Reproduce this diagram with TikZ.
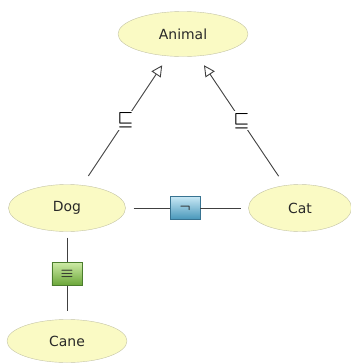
\documentclass[tikz,border=0pt]{standalone}
\usepackage{fontspec}
\setmainfont{DejaVu Sans}
\usetikzlibrary{arrows.meta,shapes.geometric}

\definecolor{conceptfill}{RGB}{250,250,196}
\definecolor{conceptline}{RGB}{195,195,165}
\definecolor{inktext}{RGB}{40,40,40}
\definecolor{negtop}{RGB}{200,232,245}
\definecolor{negbot}{RGB}{70,150,185}
\definecolor{negline}{RGB}{55,115,145}
\definecolor{eqtop}{RGB}{205,235,165}
\definecolor{eqbot}{RGB}{105,165,55}
\definecolor{eqline}{RGB}{75,125,45}

\tikzset{
  concept/.style={ellipse, draw=conceptline, fill=conceptfill, inner sep=0pt,
    text=inktext, font=\fontsize{14}{16}\selectfont},
  link/.style={draw=black!75, line width=0.9bp},
  isa/.style={link, -{Triangle[open, length=11bp, width=11bp]},
    shorten <=11bp, shorten >=11bp},
  subsym/.style={fill=white, inner sep=2bp, font=\fontsize{16}{16}\selectfont\boldmath},
  opbox/.style={draw, rectangle, minimum width=30bp, minimum height=23bp,
    inner sep=0pt, font=\fontsize{14}{14}\selectfont\boldmath, text=black!85}
}

\begin{document}
\begin{tikzpicture}[x=1bp, y=-1bp]
  \useasboundingbox (0,0) rectangle (351,363);

  % Concepts
  \node[concept, minimum width=130bp, minimum height=45bp] (animal) at (183,34) {Animal};
  \node[concept, minimum width=117bp, minimum height=47bp] (dog) at (67,208) {Dog};
  \node[concept, minimum width=103bp, minimum height=47bp] (cat) at (300,208) {Cat};
  \node[concept, minimum width=120bp, minimum height=43bp] (cane) at (67,341) {Cane};

  % Subsumption
  \draw[isa] (dog) -- node[subsym] {$\sqsubseteq$} (animal);
  \draw[isa] (cat) -- node[subsym] {$\sqsubseteq$} (animal);

  % Disjointness
  \node[opbox, draw=negline, top color=negtop, bottom color=negbot] (neg) at (185,208) {$\neg$};
  \draw[link, shorten <=8bp] (dog) -- (neg);
  \draw[link, shorten >=7bp] (neg) -- (cat);

  % Equivalence
  \node[opbox, draw=eqline, top color=eqtop, bottom color=eqbot] (equiv) at (67,274) {$\equiv$};
  \draw[link, shorten <=6bp] (dog) -- (equiv);
  \draw[link, shorten >=8bp] (equiv) -- (cane);
\end{tikzpicture}
\end{document}
